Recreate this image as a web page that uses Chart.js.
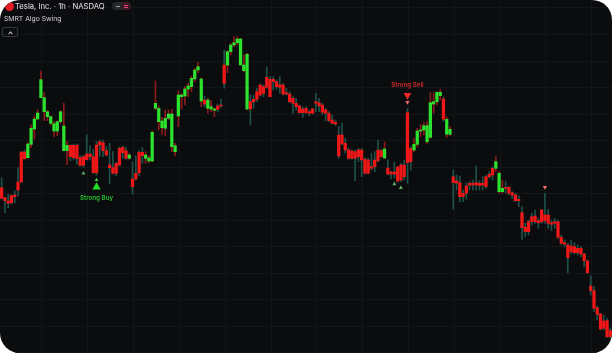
<!DOCTYPE html>
<html>
<head>
<meta charset="utf-8">
<script src="https://cdn.jsdelivr.net/npm/chart.js@4.4.0/dist/chart.umd.min.js"></script>
<style>
  html, body { margin: 0; padding: 0; background: #fff; }
  .panel { position: relative; width: 612px; height: 353px; border-radius: 20px; overflow: hidden; background: #0b0c0e; font-family: Inter, "Noto Sans", sans-serif; }
  canvas { position: absolute; left: 0; top: 0; }
  .logo { position: absolute; left: 5px; top: 2px; width: 9px; height: 9px; border-radius: 50%; background: #e31d25; }
  .title { position: absolute; left: 15px; top: 1px; font-size: 7.7px; line-height: 11px; color: #e6e6e8; white-space: nowrap; }
  .pill { position: absolute; left: 112px; top: 2px; width: 19px; height: 8px; border-radius: 4px; background: #26272c; overflow: hidden; }
  .pill .hide { position: absolute; left: 4px; top: 3.5px; width: 4px; height: 1.5px; background: #a3a4a8; }
  .pill .menu { position: absolute; left: 10px; top: 0; width: 9px; height: 8px; background: #3a1b25; }
  .pill .menu i { position: absolute; left: 2px; width: 4px; height: 1px; background: #e8457c; }
  .study { position: absolute; left: 4px; top: 14px; font-size: 6.8px; line-height: 9px; color: #d3d4d8; white-space: nowrap; }
  .toggle { position: absolute; left: 2px; top: 27px; width: 14px; height: 8px; border: 1px solid #34363c; border-radius: 2px; }
  .toggle i { position: absolute; left: 5.5px; top: 3.5px; width: 2px; height: 2px; border-left: 1px solid #d8d8d8; border-top: 1px solid #d8d8d8; transform: rotate(45deg); }
</style>
</head>
<body>
<div class="panel">
  <canvas id="chart" width="612" height="353"></canvas>
  <div class="logo"></div>
  <div class="title">Tesla, Inc. · 1h · NASDAQ</div>
  <div class="pill"><div class="hide"></div><div class="menu"><i style="top:2.5px"></i><i style="top:4.5px"></i></div></div>
  <div class="study">SMRT Algo Swing</div>
  <div class="toggle"><i></i></div>
</div>
<script>
  //Candles (Heikin-style bodies from the indicator), one per hourly bar
  const open = [
    212.3, 202.3, 199.0, 204.3, 205.0, 218.0, 248.0, 248.0, 242.3, 255.7,
    271.0, 281.0, 302.3, 288.3, 283.3, 276.7, 269.0, 269.0, 278.3, 249.3,
    249.3, 254.7, 254.7, 254.7, 242.3, 243.3, 246.0, 246.0, 243.3, 255.0,
    258.3, 257.3, 249.3, 235.0, 232.3, 236.7, 251.7, 252.7, 249.3, 241.7,
    221.0, 226.7, 247.7, 247.7, 241.7, 239.0, 239.0, 291.7, 278.3, 272.3,
    271.7, 281.7, 253.3, 248.3, 284.0, 303.3, 304.0, 311.0, 313.3, 321.0,
    330.0, 299.0, 300.0, 291.7, 291.0, 289.7, 294.0, 295.0, 335.0, 335.0,
    348.3, 355.0, 357.3, 335.0, 329.3, 291.0, 298.3, 300.7, 308.3, 315.0,
    313.3, 322.7, 320.7, 320.7, 318.3, 315.0, 315.0, 307.3, 306.0, 301.7,
    296.7, 294.0, 291.0, 291.7, 288.3, 291.0, 298.3, 297.3, 295.0, 290.0,
    286.7, 280.0, 277.7, 265.0, 265.0, 256.7, 250.0, 249.0, 248.3, 250.0,
    250.0, 240.7, 240.0, 233.3, 240.0, 250.0, 249.3, 242.0, 232.0, 228.0,
    228.0, 233.0, 235.0, 235.0, 287.3, 251.7, 250.0, 255.7, 269.0, 270.0,
    258.3, 262.7, 296.0, 298.3, 304.3, 301.0, 265.7, 265.7, 223.3, 219.0,
    217.3, 206.7, 214.0, 216.7, 216.7, 217.3, 216.7, 216.7, 223.3, 225.7,
    231.7, 231.7, 208.3, 208.3, 212.7, 212.7, 207.3, 205.0, 200.7, 187.3,
    172.7, 178.3, 183.3, 184.0, 179.3, 190.0, 185.0, 185.0, 177.3, 178.3,
    178.3, 162.7, 157.3, 155.0, 154.0, 153.3, 151.7, 151.7, 146.0, 139.0,
    114.0, 109.3, 92.3, 86.0, 79.0, 79.3, 69.3
  ];
  const high = [
    222.3, 203.0, 205.7, 205.3, 209.3, 232.3, 248.3, 250.0, 257.3, 275.0,
    284.0, 290.0, 329.0, 307.3, 290.0, 284.0, 278.3, 279.3, 289.3, 296.7,
    258.7, 255.3, 255.7, 256.0, 244.3, 244.7, 265.0, 254.3, 250.7, 258.7,
    260.0, 260.0, 253.3, 256.7, 248.3, 237.3, 253.3, 254.0, 252.7, 246.7,
    238.3, 244.3, 249.3, 252.7, 248.3, 244.0, 269.0, 319.0, 294.0, 282.7,
    290.0, 290.0, 290.7, 256.7, 309.0, 306.7, 313.3, 316.7, 324.0, 331.7,
    337.7, 322.0, 304.0, 301.7, 299.3, 292.0, 296.0, 301.0, 350.0, 349.3,
    356.7, 363.3, 363.3, 361.7, 345.0, 346.7, 305.0, 305.0, 311.7, 316.0,
    315.0, 333.3, 323.3, 323.3, 320.0, 323.3, 316.7, 311.7, 308.3, 303.3,
    301.7, 295.0, 293.3, 293.3, 290.0, 291.7, 306.7, 301.7, 296.7, 291.7,
    288.3, 285.0, 280.0, 273.3, 276.7, 261.7, 251.7, 250.0, 250.0, 251.7,
    251.7, 242.3, 241.7, 246.7, 248.3, 260.0, 250.7, 258.0, 240.0, 229.0,
    238.0, 233.3, 236.7, 240.0, 291.7, 253.3, 261.7, 271.7, 275.7, 277.3,
    278.3, 307.3, 306.7, 308.3, 310.7, 303.3, 283.3, 273.3, 230.0, 225.0,
    224.0, 210.0, 217.3, 218.3, 220.0, 234.0, 219.3, 223.3, 225.0, 228.3,
    233.3, 243.3, 228.3, 220.0, 218.3, 213.3, 208.3, 206.7, 204.0, 193.3,
    176.7, 180.0, 186.7, 190.0, 181.7, 190.7, 206.7, 190.7, 180.0, 181.7,
    180.0, 165.0, 160.0, 156.7, 159.3, 157.3, 155.0, 153.3, 146.7, 140.0,
    124.0, 113.3, 94.0, 86.7, 85.0, 81.7, 72.0
  ];
  const low = [
    201.0, 187.3, 192.3, 196.0, 197.3, 204.0, 217.7, 240.7, 241.7, 252.7,
    261.0, 280.0, 302.3, 279.3, 279.3, 275.0, 263.3, 264.3, 276.7, 249.3,
    235.7, 239.3, 240.0, 235.7, 234.0, 232.7, 240.0, 240.0, 226.7, 225.0,
    243.3, 243.3, 244.0, 216.7, 226.0, 224.3, 234.0, 241.7, 240.7, 240.7,
    206.0, 220.0, 224.3, 236.7, 236.7, 237.3, 238.3, 290.0, 270.0, 265.7,
    264.0, 280.0, 248.3, 244.0, 273.3, 291.0, 295.0, 303.3, 308.3, 318.3,
    327.3, 293.3, 293.0, 286.7, 288.3, 283.3, 288.0, 292.7, 311.7, 327.3,
    345.0, 353.3, 355.0, 335.0, 328.3, 290.0, 275.0, 291.7, 298.3, 304.0,
    303.3, 311.7, 303.3, 310.0, 310.7, 306.7, 305.0, 305.0, 297.3, 286.7,
    290.0, 286.7, 282.7, 286.7, 284.0, 286.0, 288.3, 288.3, 285.0, 279.0,
    278.3, 276.0, 274.3, 241.7, 255.0, 246.7, 240.7, 240.7, 219.3, 238.3,
    223.3, 226.0, 226.7, 230.0, 228.3, 238.3, 242.7, 241.5, 225.0, 221.0,
    222.0, 218.0, 218.3, 220.0, 216.7, 230.0, 248.3, 253.3, 263.3, 265.0,
    256.7, 261.7, 286.7, 295.0, 300.0, 278.3, 262.7, 264.0, 190.7, 210.0,
    198.3, 198.3, 200.7, 210.0, 210.0, 210.0, 210.0, 210.0, 211.7, 221.7,
    220.0, 228.3, 206.7, 206.7, 206.7, 205.0, 201.7, 198.3, 193.3, 160.7,
    163.3, 165.0, 175.0, 176.7, 171.7, 176.7, 176.7, 171.7, 169.3, 171.7,
    161.7, 155.0, 153.3, 127.3, 146.7, 146.0, 145.0, 143.3, 133.3, 126.7,
    105.0, 88.3, 80.0, 70.0, 70.0, 62.7, 62.0
  ];
  const close = [
    201.7, 199.3, 196.7, 197.3, 203.3, 210.0, 218.0, 241.3, 256.0, 271.7,
    281.0, 287.0, 320.3, 302.3, 288.3, 283.3, 276.3, 278.3, 288.3, 274.0,
    254.7, 243.3, 242.3, 241.3, 234.7, 234.7, 240.3, 243.3, 227.3, 227.3,
    255.0, 249.3, 245.0, 232.3, 226.7, 226.7, 235.0, 247.3, 241.7, 245.0,
    213.3, 221.0, 227.3, 244.3, 245.0, 242.0, 267.7, 296.7, 291.7, 279.0,
    281.7, 286.0, 286.0, 254.3, 305.0, 305.0, 311.0, 314.0, 321.7, 330.0,
    333.3, 321.0, 296.0, 300.0, 293.3, 291.0, 290.7, 294.0, 316.7, 348.3,
    355.0, 357.3, 361.0, 361.0, 335.0, 345.7, 291.0, 298.3, 300.7, 305.0,
    306.7, 312.7, 303.3, 318.3, 313.3, 312.7, 306.0, 306.0, 298.3, 296.7,
    293.3, 287.3, 287.3, 287.3, 286.7, 286.7, 296.7, 294.0, 287.7, 286.7,
    279.3, 276.7, 276.0, 244.0, 256.0, 250.0, 241.7, 241.7, 241.7, 243.3,
    240.0, 226.7, 226.7, 231.7, 233.3, 239.3, 243.3, 251.0, 226.0, 226.0,
    226.0, 219.0, 220.0, 223.3, 237.3, 238.3, 255.7, 269.0, 270.0, 274.3,
    274.3, 297.3, 298.3, 307.7, 307.7, 280.7, 280.7, 270.7, 217.3, 217.0,
    203.3, 203.3, 206.7, 215.0, 215.0, 215.0, 214.3, 215.0, 213.3, 223.3,
    225.0, 238.3, 226.7, 211.7, 211.7, 206.7, 205.0, 199.3, 199.3, 172.3,
    168.3, 168.3, 178.3, 178.3, 177.3, 178.3, 179.3, 176.7, 175.7, 176.7,
    162.7, 156.7, 156.0, 142.3, 148.3, 147.3, 147.3, 146.0, 139.3, 127.3,
    109.3, 91.7, 85.7, 71.0, 71.7, 63.3, 63.3
  ];

  //Signals (bar index)
  const weakBuy = [25, 120, 122];
  const strongBuy = [29];
  const strongSell = [124];
  const weakSell = [166];

  const UP = "#2ce22f";
  const DOWN = "#ef1717";
  const WICK_UP = "#1d5149";
  const WICK_DOWN = "#8c1c1c";

  const isUp = (i) => close[i] >= open[i];

  //Text under / over the strong signals
  const signalText = {
    id: "signalText",
    afterDatasetsDraw(chart) {
      const ctx = chart.ctx;
      const xs = chart.scales.x;
      const ys = chart.scales.y;
      ctx.save();
      ctx.font = "600 6.2px Inter, sans-serif";
      ctx.textAlign = "center";
      ctx.textBaseline = "middle";
      ctx.fillStyle = "#27c22c";
      strongBuy.forEach((i) => {
        ctx.fillText("Strong Buy", xs.getPixelForValue(i + 0.5), ys.getPixelForValue(low[i] - 23));
      });
      ctx.fillStyle = "#d22b2b";
      strongSell.forEach((i) => {
        ctx.fillText("Strong Sell", xs.getPixelForValue(i + 0.5), ys.getPixelForValue(high[i] + 23));
      });
      ctx.restore();
    },
  };

  function triangles(idx, valueOf, color, radius, down) {
    return {
      type: "scatter",
      data: idx.map((i) => ({ x: i + 0.5, y: valueOf(i) })),
      pointStyle: "triangle",
      rotation: down ? 180 : 0,
      pointRadius: radius,
      pointHoverRadius: radius,
      backgroundColor: color,
      borderWidth: 0,
      order: 0,
    };
  }

  const gridColor = "#131518";

  new Chart(document.getElementById("chart"), {
    type: "bar",
    data: {
      datasets: [
        triangles(weakBuy, (i) => low[i] - 6, "#57a866", 2.4, false),
        triangles(strongBuy, (i) => low[i] - 5, "#3fcf45", 2.2, false),
        triangles(strongBuy, (i) => low[i] - 12, "#22e02a", 4.8, false),
        triangles(strongSell, (i) => high[i] + 13, "#f42626", 4.4, true),
        triangles(strongSell, (i) => high[i] + 6, "#f36b6b", 2.4, true),
        triangles(weakSell, (i) => high[i] + 6, "#f2706a", 2.5, true),
        {
          data: open.map((o, i) => ({ x: i + 0.5, y: [Math.min(o, close[i]), Math.max(o, close[i])] })),
          backgroundColor: (c) => (isUp(c.dataIndex) ? UP : DOWN),
          barThickness: 2.6,
          minBarLength: 1,
          grouped: false,
          order: 1,
        },
        {
          data: low.map((l, i) => ({ x: i + 0.5, y: [l, high[i]] })),
          backgroundColor: (c) => (isUp(c.dataIndex) ? WICK_DOWN : WICK_UP),
          barThickness: 1,
          grouped: false,
          order: 2,
        },
      ],
    },
    options: {
      responsive: false,
      animation: false,
      events: [],
      layout: { padding: 0, autoPadding: false },
      plugins: { legend: { display: false }, tooltip: { enabled: false } },
      scales: {
        x: {
          type: "linear",
          min: 0,
          max: open.length,
          offset: false,
          ticks: { display: false },
          grid: { color: gridColor, drawTicks: false, offset: false },
          border: { display: false },
          afterBuildTicks: (scale) => {
            const t = [];
            for (let v = 12.83; v < open.length; v += 14) t.push({ value: v });
            scale.ticks = t;
          },
        },
        y: {
          type: "linear",
          min: 47,
          max: 400,
          ticks: { display: false },
          grid: { color: gridColor, drawTicks: false },
          border: { display: false },
          afterBuildTicks: (scale) => {
            const t = [];
            for (let v = 392; v > 47; v -= 26.5) t.push({ value: v });
            scale.ticks = t;
          },
        },
      },
    },
    plugins: [signalText],
  });
</script>
</body>
</html>
